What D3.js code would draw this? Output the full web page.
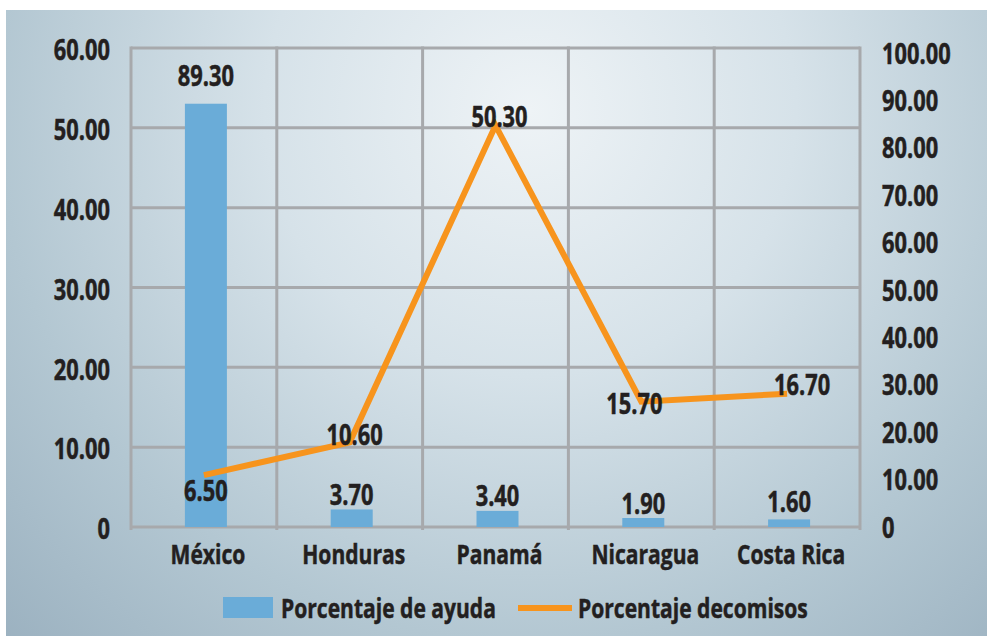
<!DOCTYPE html>
<html><head><meta charset="utf-8">
<script src="https://cdn.jsdelivr.net/npm/d3@7"></script>
<style>
html,body{margin:0;padding:0;background:#fff;}
text{font-family:"Open Sans","Noto Sans",sans-serif;font-weight:bold;fill:#231f20;stroke:#231f20;stroke-width:0.5px;}
</style></head>
<body>
<svg id="chart" width="987" height="636"></svg>
<script>
const categories = ["México","Honduras","Panamá","Nicaragua","Costa Rica"];
const ayuda = [89.30, 3.70, 3.40, 1.90, 1.60];          // bars, right axis
const decomisos = [6.50, 10.60, 50.30, 15.70, 16.70];   // line, left axis
const leftTicks = [0,10,20,30,40,50,60];
const rightTicks = [0,10,20,30,40,50,60,70,80,90,100];
const seriesNames = ["Porcentaje de ayuda","Porcentaje decomisos"];

// label placement offsets (styling)
const lineLabelOffset = [[2,16],[5,-7],[4,-9],[-7,2],[15,-9]];
const barLabelOffset = [-28,-15,-15,-14,-17];

const svg = d3.select("#chart");
const W = 987, H = 636;
const m = {left:131, right:860, top:48, bottom:527};
const blue = "#6aacd8", orange = "#f7941d", grid = "#a7a9ac";
const condense = 0.78;

const defs = svg.append("defs");
const rg = defs.append("radialGradient").attr("id","bg")
  .attr("gradientUnits","userSpaceOnUse").attr("cx",530).attr("cy",110).attr("r",760);
rg.append("stop").attr("offset",0).attr("stop-color","#eef3f6");
rg.append("stop").attr("offset",0.35).attr("stop-color","#d6e2e9");
rg.append("stop").attr("offset",0.7).attr("stop-color","#b3c7d2");
rg.append("stop").attr("offset",1).attr("stop-color","#9ab0bf");

svg.append("rect").attr("x",6).attr("y",10).attr("width",W-6).attr("height",H-10).attr("fill","url(#bg)");

const x = d3.scaleBand().domain(categories).range([m.left,m.right]).padding(0);
const yL = d3.scaleLinear().domain([0,60]).range([m.bottom,m.top]);
const yR = d3.scaleLinear().domain([0,100]).range([m.bottom,53]);
const barW = 42;

// gridlines
const g = svg.append("g");
g.selectAll("line.h").data(leftTicks).join("line")
  .attr("x1",m.left).attr("x2",m.right).attr("y1",d=>yL(d)).attr("y2",d=>yL(d))
  .attr("stroke",grid).attr("stroke-width",3);
const bounds = categories.map(c=>x(c)).concat([m.right]);
g.selectAll("line.v").data(bounds).join("line")
  .attr("x1",d=>d).attr("x2",d=>d).attr("y1",m.top-1.5).attr("y2",m.bottom+3)
  .attr("stroke",grid).attr("stroke-width",3);

// bars
svg.append("g").selectAll("rect").data(ayuda).join("rect")
  .attr("x",(d,i)=>x(categories[i])+x.bandwidth()/2-barW/2+2)
  .attr("width",barW)
  .attr("y",d=>yR(d)).attr("height",d=>m.bottom-yR(d))
  .attr("fill",blue);

// line
const line = d3.line().x((d,i)=>x(categories[i])+x.bandwidth()/2).y(d=>yL(d));
svg.append("path").datum(decomisos).attr("d",line)
  .attr("fill","none").attr("stroke",orange).attr("stroke-width",6).attr("stroke-linejoin","miter");

// bar labels
svg.append("g").selectAll("text").data(ayuda).join("text")
  .attr("x",(d,i)=>x(categories[i])+x.bandwidth()/2+2)
  .attr("y",(d,i)=>yR(d)+barLabelOffset[i])
  .attr("dy","0.36em").attr("text-anchor","middle").attr("font-size",28)
  .text(d=>d.toFixed(2));

// line labels
svg.append("g").selectAll("text").data(decomisos).join("text")
  .attr("x",(d,i)=>x(categories[i])+x.bandwidth()/2+lineLabelOffset[i][0])
  .attr("y",(d,i)=>yL(d)+lineLabelOffset[i][1])
  .attr("dy","0.36em").attr("text-anchor","middle").attr("font-size",28)
  .text(d=>d.toFixed(2));

// axes
const fmt = d=> d===0 ? "0" : d.toFixed(2);
const axL = svg.append("g").attr("transform",`translate(${m.left},0)`)
  .call(d3.axisLeft(yL).tickValues(leftTicks).tickFormat(fmt).tickSize(0).tickPadding(21));
const axR = svg.append("g").attr("transform",`translate(${m.right},0)`)
  .call(d3.axisRight(yR).tickValues(rightTicks).tickFormat(fmt).tickSize(0).tickPadding(22));
const axB = svg.append("g").attr("transform",`translate(0,${m.bottom})`)
  .call(d3.axisBottom(x).tickSize(0).tickPadding(18));
[axL,axR,axB].forEach(a=>{
  a.select(".domain").remove();
  a.attr("font-family",null).attr("font-size",null);
  a.selectAll("text").attr("font-size",28).attr("fill","#231f20");
});
axL.selectAll("text").attr("dy","0.42em");
axR.selectAll("text").attr("dy","0.36em");
axB.selectAll("text").attr("font-size",27).attr("dy","0.72em").attr("dx",4);

// legend
const lg = svg.append("g");
lg.append("rect").attr("x",223).attr("y",597).attr("width",50).attr("height",21).attr("fill",blue);
lg.append("text").attr("x",281).attr("y",608).attr("dy","0.36em").attr("font-size",27).text(seriesNames[0]);
lg.append("line").attr("x1",518).attr("x2",572).attr("y1",608).attr("y2",608).attr("stroke",orange).attr("stroke-width",6);
lg.append("text").attr("x",578).attr("y",608).attr("dy","0.36em").attr("font-size",27).text(seriesNames[1]);

// condense all text horizontally around its anchor point
svg.selectAll("text").each(function(){
  const b = this.getBBox();
  const anchor = getComputedStyle(this).textAnchor;
  const ax = anchor==="middle" ? b.x+b.width/2 : anchor==="end" ? b.x+b.width : b.x;
  d3.select(this).attr("transform",`translate(${ax},0) scale(${condense},1) translate(${-ax},0)`);
});
</script>
</body></html>
